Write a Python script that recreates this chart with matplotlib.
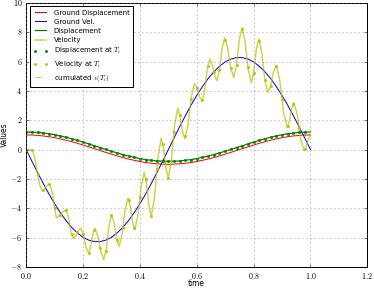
import numpy as np
import matplotlib
matplotlib.use("Agg")
import matplotlib.pyplot as plt
from matplotlib.ticker import FuncFormatter

plt.style.use("classic")
plt.rcParams["mathtext.fontset"] = "cm"

# samples every 0.02 s for the smooth curves
t_grid = np.linspace(0.0, 1.0, 51)

ground_disp = [1.00, 0.99, 0.97, 0.93, 0.88, 0.81, 0.73, 0.64, 0.54, 0.43,
               0.31, 0.19, 0.06, -0.06, -0.19, -0.31, -0.43, -0.54, -0.64, -0.73,
               -0.81, -0.88, -0.93, -0.97, -0.99, -1.00, -0.99, -0.97, -0.93, -0.88,
               -0.81, -0.73, -0.64, -0.54, -0.43, -0.31, -0.19, -0.06, 0.06, 0.19,
               0.31, 0.43, 0.54, 0.64, 0.73, 0.81, 0.88, 0.93, 0.97, 0.99, 1.00]

ground_vel = [0.00, -0.79, -1.56, -2.31, -3.03, -3.69, -4.30, -4.84, -5.30, -5.68,
              -5.98, -6.17, -6.27, -6.27, -6.17, -5.98, -5.68, -5.30, -4.84, -4.30,
              -3.69, -3.03, -2.31, -1.56, -0.79, 0.00, 0.79, 1.56, 2.31, 3.03,
              3.69, 4.30, 4.84, 5.30, 5.68, 5.98, 6.17, 6.27, 6.27, 6.17,
              5.98, 5.68, 5.30, 4.84, 4.30, 3.69, 3.03, 2.31, 1.56, 0.79, 0.00]

displacement = [1.20, 1.19, 1.17, 1.13, 1.08, 1.01, 0.93, 0.84, 0.74, 0.63,
                0.51, 0.39, 0.26, 0.14, 0.01, -0.11, -0.23, -0.34, -0.44, -0.53,
                -0.61, -0.68, -0.73, -0.77, -0.79, -0.80, -0.79, -0.77, -0.73, -0.68,
                -0.61, -0.53, -0.44, -0.34, -0.23, -0.11, 0.01, 0.14, 0.26, 0.39,
                0.51, 0.63, 0.74, 0.84, 0.93, 1.01, 1.08, 1.13, 1.17, 1.19, 1.20]

# velocity response
vel_t = [0.000, 0.010, 0.022, 0.030, 0.039, 0.048, 0.057, 0.0653, 0.0737,
         0.082, 0.0913, 0.1007, 0.106, 0.1173, 0.1287, 0.140, 0.1483, 0.1567,
         0.165, 0.174, 0.183, 0.192, 0.201, 0.210, 0.219, 0.2267, 0.2343,
         0.242, 0.2523, 0.2627, 0.273, 0.282, 0.291, 0.300, 0.309, 0.318,
         0.327, 0.3373, 0.3477, 0.358, 0.366, 0.374, 0.382, 0.393, 0.404,
         0.415, 0.4233, 0.4317, 0.440, 0.4517, 0.4633, 0.475, 0.4833, 0.4917,
         0.500, 0.511, 0.522, 0.533, 0.5413, 0.5497, 0.558, 0.5693, 0.5807,
         0.592, 0.601, 0.610, 0.619, 0.628, 0.637, 0.646, 0.6543, 0.6627,
         0.671, 0.680, 0.689, 0.698, 0.7087, 0.7193, 0.730, 0.7397, 0.7493,
         0.759, 0.770, 0.781, 0.792, 0.8007, 0.8093, 0.818, 0.8287, 0.8393,
         0.850, 0.860, 0.870, 0.880, 0.8927, 0.9053, 0.918, 0.926, 0.934,
         0.942, 0.9537, 0.9653, 0.977, 0.9847, 0.9923, 1.000]
vel_v = [0.00, 0.00, -0.05, -0.55, -1.60, -2.45, -2.80, -2.68, -2.45,
         -2.33, -2.91, -4.07, -4.65, -4.51, -4.24, -4.10, -4.59, -5.56,
         -6.05, -5.88, -5.53, -5.35, -5.78, -6.63, -7.05, -6.63, -5.78,
         -5.35, -5.89, -6.96, -7.50, -6.74, -5.21, -4.44, -4.98, -6.06,
         -6.60, -5.78, -4.13, -3.30, -3.84, -4.92, -5.46, -4.48, -2.53,
         -1.55, -2.30, -3.80, -4.55, -3.22, -0.55, 0.78, 0.10, -1.25,
         -1.93, -0.74, 1.63, 2.82, 2.30, 1.25, 0.73, 1.67, 3.56,
         4.50, 4.20, 3.60, 3.30, 4.02, 5.47, 6.19, 5.82, 5.07,
         4.70, 5.43, 6.89, 7.62, 6.94, 5.58, 4.90, 5.75, 7.45,
         8.30, 7.36, 5.49, 4.55, 5.30, 6.80, 7.55, 6.63, 4.79,
         3.87, 4.34, 5.27, 5.73, 4.67, 2.56, 1.50, 1.92, 2.77,
         3.19, 2.38, 0.76, -0.05, 0.20, 0.70, 0.95]

# sampled values at the instants T_i
t_i = np.linspace(0.0, 0.98, 50)
disp_ti = displacement[:50]
vel_ti = [0.00, 0.00, -1.69, -2.76, -2.36, -3.98, -4.45, -4.10, -5.75, -5.65,
          -5.73, -7.03, -5.46, -6.68, -6.91, -4.44, -6.18, -5.35, -3.44, -5.33,
          -3.24, -2.00, -4.55, -1.31, 0.37, -1.93, 1.20, 2.38, 0.90, 3.44,
          4.23, 3.38, 5.71, 5.31, 5.43, 7.49, 5.54, 5.75, 8.21, 5.66,
          5.24, 7.38, 4.73, 4.34, 5.73, 3.44, 1.61, 3.09, 1.50, 0.05]

fig = plt.figure(figsize=(5.2, 4), dpi=72, facecolor="white")
ax = fig.add_axes([0.07, 0.073, 0.911, 0.917])

ax.plot(t_grid, ground_disp, "r-", lw=1.0, label="Ground Displacement")
ax.plot(t_grid, ground_vel, "b-", lw=1.0, label="Ground Vel.")
ax.plot(t_grid, displacement, "g-", lw=1.2, label="Displacement")
ax.plot(vel_t, vel_v, "-", color="y", lw=1.5, alpha=0.7, label="Velocity")
ax.plot(t_i, disp_ti, "o", color="g", mec="g", ms=2.4, label="Displacement at $T_i$")
ax.plot(t_i, vel_ti, "o", color="y", mec="y", ms=2.4, label="Velocity at $T_i$")
ax.plot(t_i, disp_ti, "--", color="y", lw=0.8, zorder=1, label=r"cumulated $v(T_i)$")

ax.set_xlim(0, 1.2)
ax.set_ylim(-8, 10)
ax.set_xticks(np.arange(0, 1.21, 0.2))
ax.set_yticks(np.arange(-8, 11, 2))
ax.xaxis.set_major_formatter(FuncFormatter(lambda v, p: "$%.1f$" % v))
ax.yaxis.set_major_formatter(FuncFormatter(lambda v, p: "$%d$" % round(v)))
ax.tick_params(labelsize=8, length=3)
ax.grid(True, color="0.55", linestyle=":", linewidth=0.8)
ax.set_xlabel("time", fontsize=7.5, labelpad=-1.5)
ax.set_ylabel("Values", fontsize=7.5, labelpad=1)

ax.legend(loc="upper left", fontsize=7, numpoints=2, handlelength=2.2,
          labelspacing=0.45, borderpad=0.45, fancybox=False)

fig.savefig("out.png", dpi=72, facecolor="white")
